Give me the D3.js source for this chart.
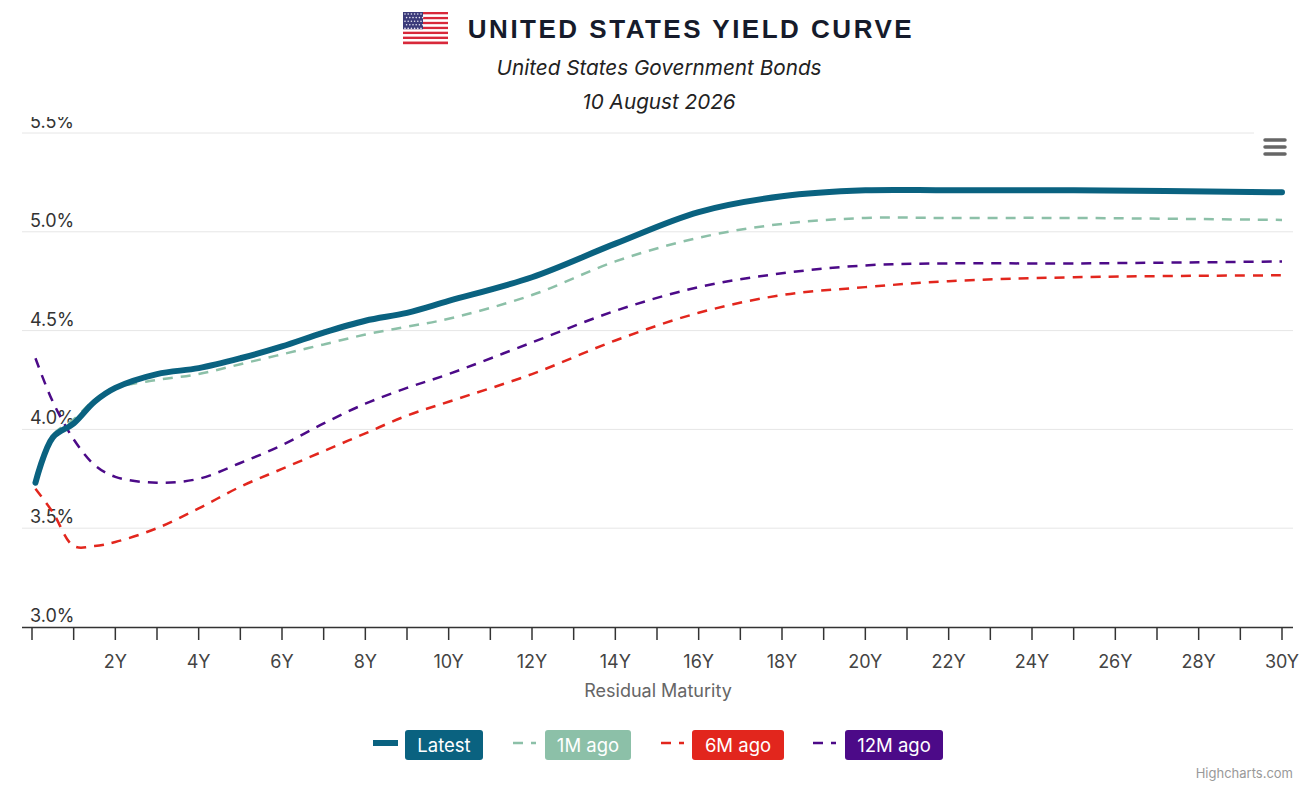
<!DOCTYPE html>
<html>
<head>
<meta charset="utf-8">
<script src="https://cdn.jsdelivr.net/npm/d3@7"></script>
<style>
  body { margin: 0; background: #fff; }
  svg { display: block; font-family: "Inter", "Roboto", sans-serif; }
</style>
</head>
<body>
<svg id="chart" width="1312" height="790"></svg>
<script>
// maturities in years (1M, 6M, 1Y ... 30Y)
const maturities = [0.083, 0.5, 1, 1.5, 2, 3, 4, 5, 6, 7, 8, 9, 10, 12, 14, 16, 18, 20, 22, 25, 30];

const latest   = [3.73, 3.96, 4.03, 4.14, 4.21, 4.28, 4.31, 4.36, 4.42, 4.49, 4.55, 4.59, 4.65, 4.77, 4.94, 5.10, 5.18, 5.21, 5.21, 5.21, 5.20];
const oneMAgo  = [3.72, 3.97, 4.05, 4.15, 4.21, 4.25, 4.28, 4.33, 4.38, 4.43, 4.48, 4.52, 4.56, 4.68, 4.85, 4.97, 5.04, 5.07, 5.07, 5.07, 5.06];
const sixMAgo  = [3.70, 3.58, 3.41, 3.41, 3.43, 3.50, 3.60, 3.71, 3.80, 3.89, 3.98, 4.07, 4.14, 4.28, 4.45, 4.59, 4.68, 4.72, 4.75, 4.77, 4.78];
const twelveMAgo = [4.36, 4.14, 3.95, 3.82, 3.76, 3.73, 3.75, 3.83, 3.92, 4.03, 4.13, 4.21, 4.28, 4.44, 4.60, 4.72, 4.79, 4.83, 4.84, 4.84, 4.85];

const seriesNames  = ["Latest", "1M ago", "6M ago", "12M ago"];
const seriesColors = ["#0a6280", "#8cc0a8", "#e2261d", "#4c0a88"];

const yTicks = [3.0, 3.5, 4.0, 4.5, 5.0, 5.5];
const xTicks = d3.range(0, 31, 1);
const xLabels = d3.range(2, 31, 2);

const series = [latest, oneMAgo, sixMAgo, twelveMAgo].map((vals, i) => ({
    name: seriesNames[i],
    color: seriesColors[i],
    points: maturities.map((m, j) => ({ m: m, v: vals[j] }))
}));

const svg = d3.select("#chart");

const plotLeft = 22, plotRight = 1293;
const x = d3.scaleLinear().domain([0, 30]).range([32, 1282]);
const y = d3.scaleLinear().domain([3.0, 5.5]).range([627, 133]);

// clip for the y labels (top one is cut by the header)
svg.append("defs").append("clipPath").attr("id", "yclip")
    .append("rect").attr("x", 0).attr("y", 117).attr("width", 200).attr("height", 600);

// gridlines
svg.append("g")
    .selectAll("line")
    .data(yTicks.filter(t => t > 3.0))
    .join("line")
    .attr("x1", plotLeft).attr("x2", plotRight)
    .attr("y1", d => y(d)).attr("y2", d => y(d))
    .attr("stroke", "#e6e6e6").attr("stroke-width", 1);

// y labels
svg.append("g").attr("clip-path", "url(#yclip)")
    .selectAll("text")
    .data(yTicks)
    .join("text")
    .attr("x", 30).attr("y", d => y(d) - 5)
    .attr("fill", "#333").attr("font-size", 18)
    .text(d => d3.format(".1f")(d) + "%");

// x axis
const xAxis = svg.append("g");
xAxis.append("line")
    .attr("x1", plotLeft).attr("x2", plotRight)
    .attr("y1", 627.5).attr("y2", 627.5)
    .attr("stroke", "#333").attr("stroke-width", 1.5);
xAxis.selectAll("line.tick")
    .data(xTicks)
    .join("line").attr("class", "tick")
    .attr("x1", d => x(d)).attr("x2", d => x(d))
    .attr("y1", 628).attr("y2", 640)
    .attr("stroke", "#333").attr("stroke-width", 1.5);
xAxis.selectAll("text")
    .data(xLabels)
    .join("text")
    .attr("x", d => x(d)).attr("y", 668)
    .attr("text-anchor", "middle")
    .attr("fill", "#444").attr("font-size", 18)
    .text(d => d + "Y");

svg.append("text")
    .attr("x", 658).attr("y", 697)
    .attr("text-anchor", "middle")
    .attr("fill", "#666").attr("font-size", 18)
    .text("Residual Maturity");

// lines
const line = d3.line()
    .x(d => x(d.m))
    .y(d => y(d.v))
    .curve(d3.curveCatmullRom.alpha(0.5));

svg.append("g")
    .selectAll("path")
    .data(series.slice().reverse())
    .join("path")
    .attr("d", d => line(d.points))
    .attr("fill", "none")
    .attr("stroke", d => d.color)
    .attr("stroke-width", d => d.name === "Latest" ? 6 : 2.5)
    .attr("stroke-dasharray", d => d.name === "Latest" ? null : "10,8")
    .attr("stroke-linecap", d => d.name === "Latest" ? "round" : "butt")
    .attr("stroke-linejoin", "round");

// title
const header = svg.append("g");
header.append("text")
    .attr("x", 691).attr("y", 38)
    .attr("text-anchor", "middle")
    .attr("fill", "#161b2b")
    .attr("font-family", "'Liberation Sans', Arial, sans-serif")
    .attr("font-size", 26).attr("font-weight", 700)
    .attr("letter-spacing", 2.5)
    .text("UNITED STATES YIELD CURVE");

// flag
const flag = header.append("g").attr("transform", "translate(403,12)");
const fw = 45, fh = 32;
d3.range(13).forEach(i => {
    flag.append("rect")
        .attr("x", 0).attr("y", i * fh / 13)
        .attr("width", fw).attr("height", fh / 13 + 0.2)
        .attr("fill", i % 2 === 0 ? "#d8283a" : "#fff");
});
flag.append("rect").attr("x", 0).attr("y", 0)
    .attr("width", 20).attr("height", fh * 7 / 13)
    .attr("fill", "#3c3b7a");
d3.range(5).forEach(r => d3.range(6).forEach(c => {
    flag.append("circle")
        .attr("cx", 2 + c * 3.2 + (r % 2) * 1.6).attr("cy", 2 + r * 3.6)
        .attr("r", 0.8).attr("fill", "#e8e8f4");
}));

header.append("text")
    .attr("x", 659).attr("y", 75)
    .attr("text-anchor", "middle")
    .attr("fill", "#222").attr("font-size", 20.7).attr("font-style", "italic")
    .text("United States Government Bonds");
header.append("text")
    .attr("x", 659).attr("y", 109)
    .attr("text-anchor", "middle")
    .attr("fill", "#222").attr("font-size", 20.7).attr("font-style", "italic")
    .text("10 August 2026");

// export menu button
const menu = svg.append("g");
menu.append("rect").attr("x", 1254).attr("y", 126).attr("width", 40).attr("height", 38).attr("fill", "#fff");
[140, 147, 154].forEach(yy => {
    menu.append("line")
        .attr("x1", 1265).attr("x2", 1285)
        .attr("y1", yy).attr("y2", yy)
        .attr("stroke", "#666").attr("stroke-width", 3.5)
        .attr("stroke-linecap", "round");
});

// legend
const legendX = [373, 513, 661, 813];
const boxX    = [405, 545, 692, 845];
const boxW    = [78, 86, 92, 98];
const leg = svg.append("g").selectAll("g")
    .data(series)
    .join("g");
leg.append("line")
    .attr("x1", (d, i) => legendX[i]).attr("x2", (d, i) => legendX[i] + (i === 0 ? 25 : 23))
    .attr("y1", 743).attr("y2", 743)
    .attr("stroke", d => d.color)
    .attr("stroke-width", (d, i) => i === 0 ? 6 : 2.5)
    .attr("stroke-dasharray", (d, i) => i === 0 ? null : "10,8");
leg.append("rect")
    .attr("x", (d, i) => boxX[i]).attr("y", 730)
    .attr("width", (d, i) => boxW[i]).attr("height", 30)
    .attr("rx", 3)
    .attr("fill", d => d.color);
leg.append("text")
    .attr("x", (d, i) => boxX[i] + boxW[i] / 2).attr("y", 752)
    .attr("text-anchor", "middle")
    .attr("fill", "#fff").attr("font-size", 18.5)
    .text(d => d.name);

// credits
svg.append("text")
    .attr("x", 1293).attr("y", 778)
    .attr("text-anchor", "end")
    .attr("fill", "#999").attr("font-size", 13)
    .text("Highcharts.com");
</script>
</body>
</html>
